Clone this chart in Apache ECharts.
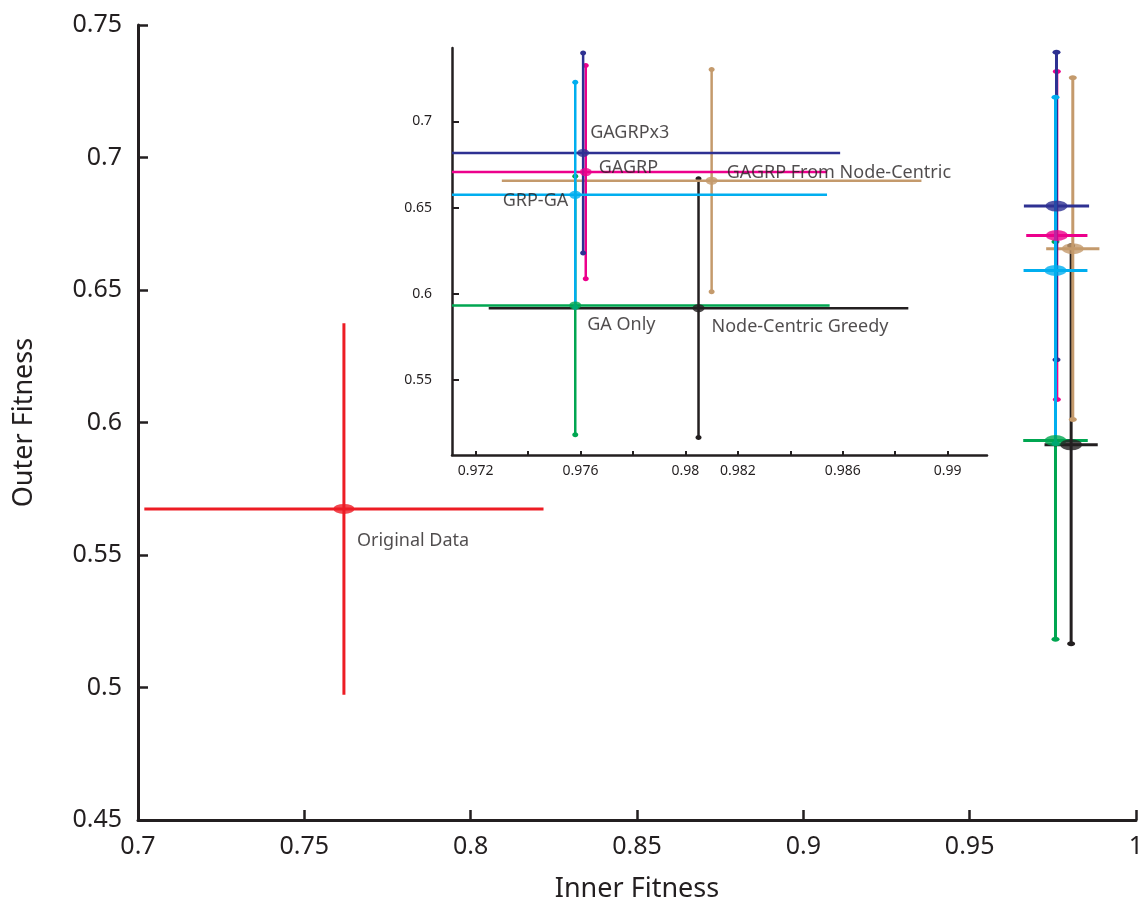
<!DOCTYPE html>
<html>
<head>
<meta charset="utf-8">
<script src="https://cdn.jsdelivr.net/npm/echarts@6/dist/echarts.min.js"></script>
<style>
  html, body { margin: 0; padding: 0; background: #fff; }
  #chart { width: 1138px; height: 904px; }
</style>
</head>
<body>
<div id="chart"></div>
<script>
// 数据: 各方法的 inner / outer fitness 均值与误差 (绘制顺序)
const names = ['Original Data', 'GA Only', 'Node-Centric Greedy', 'GAGRP From Node-Centric', 'GAGRP', 'GAGRPx3', 'GRP-GA'];
const innerMean = [0.7619, 0.9758, 0.9805, 0.9810, 0.9762, 0.9761, 0.9758];
const innerErr = [0.0600, 0.0097, 0.0080, 0.0080, 0.0092, 0.0098, 0.0096];
const outerMean = [0.5674, 0.5932, 0.5916, 0.6656, 0.6706, 0.6817, 0.6574];
const outerErr = [0.0701, 0.0750, 0.0751, 0.0645, 0.0619, 0.0580, 0.0653];

// 坐标轴刻度
const mainXTicks = [0.7, 0.75, 0.8, 0.85, 0.9, 0.95, 1];
const mainYTicks = [0.45, 0.5, 0.55, 0.6, 0.65, 0.7, 0.75];
const insetXTicks = [0.972, 0.974, 0.976, 0.978, 0.98, 0.982, 0.984, 0.986, 0.988, 0.99];
const insetXLabels = [0.972, 0.976, 0.98, 0.982, 0.986, 0.99];
const insetYTicks = [0.55, 0.6, 0.65, 0.7];

const colors = {
  'Original Data': '#ED1C24',
  'GA Only': '#00A651',
  'Node-Centric Greedy': '#231F20',
  'GAGRP From Node-Centric': '#C49A6C',
  'GAGRP': '#EC008C',
  'GAGRPx3': '#2E3192',
  'GRP-GA': '#00AEEF'
};
// 标签相对中心点的偏移
const insetLabelPos = {
  'GAGRPx3': { offset: [7, -20], align: 'left' },
  'GAGRP': { offset: [13, -4], align: 'left' },
  'GAGRP From Node-Centric': { offset: [15, -8], align: 'left' },
  'GRP-GA': { offset: [-7, 6], align: 'right' },
  'GA Only': { offset: [12, 19], align: 'left' },
  'Node-Centric Greedy': { offset: [13, 19], align: 'left' }
};
const textColor = '#231F20';
const font = 'Noto Sans';

// 误差线
function makeErrorBar(lineWidth, capRx, capRy) {
  return function (params, api) {
    const x = api.value(0), y = api.value(1), ex = api.value(2), ey = api.value(3);
    const name = names[api.value(4)];
    const color = colors[name];
    const cs = params.coordSys;
    const clampX = v => Math.max(cs.x, Math.min(cs.x + cs.width, v));
    const clampY = v => Math.max(cs.y, Math.min(cs.y + cs.height, v));
    const l = api.coord([x - ex, y]);
    const r = api.coord([x + ex, y]);
    const t = api.coord([x, y + ey]);
    const b = api.coord([x, y - ey]);
    const style = { stroke: color, lineWidth: lineWidth };
    const children = [
      { type: 'line', shape: { x1: clampX(l[0]), y1: l[1], x2: clampX(r[0]), y2: r[1] }, style: style },
      { type: 'line', shape: { x1: t[0], y1: clampY(t[1]), x2: b[0], y2: clampY(b[1]) }, style: style }
    ];
    if (name !== 'Original Data') {
      children.push({ type: 'ellipse', shape: { cx: t[0], cy: t[1], rx: capRx, ry: capRy }, style: { fill: color } });
      children.push({ type: 'ellipse', shape: { cx: b[0], cy: b[1], rx: capRx, ry: capRy }, style: { fill: color } });
    }
    return { type: 'group', children: children };
  };
}

const allIdx = names.map((n, i) => i);
const insetIdx = allIdx.filter(i => names[i] !== 'Original Data');

const mainBars = allIdx.map(i => [innerMean[i], outerMean[i], innerErr[i], outerErr[i], i]);
const insetBars = insetIdx.map(i => [innerMean[i], outerMean[i], innerErr[i], outerErr[i], i]);

const mainPoints = allIdx.map(i => ({
  name: names[i],
  value: [innerMean[i], outerMean[i]],
  symbolSize: names[i] === 'Original Data' ? [21, 10] : [22, 11],
  itemStyle: { color: colors[names[i]] },
  label: names[i] === 'Original Data' ? {
    show: true, formatter: names[i], position: 'inside', align: 'left',
    offset: [13, 32], color: textColor, fontSize: 18, fontFamily: font
  } : { show: false }
}));

const insetPoints = insetIdx.map(i => ({
  name: names[i],
  value: [innerMean[i], outerMean[i]],
  itemStyle: { color: colors[names[i]] },
  label: {
    show: true, formatter: names[i], position: 'inside',
    align: insetLabelPos[names[i]].align, offset: insetLabelPos[names[i]].offset,
    color: textColor, fontSize: 18, fontFamily: font
  }
}));

const axisLineStyle = { color: textColor, width: 3 };

const option = {
  animation: false,
  backgroundColor: '#fff',
  grid: [
    { left: 138, right: 2, top: 25, bottom: 84, outerBoundsMode: 'none' },
    { left: 452, right: 151, top: 48, bottom: 449, outerBoundsMode: 'none' }
  ],
  xAxis: [
    {
      gridIndex: 0, type: 'value', min: 0.7, max: 1, interval: 0.05,
      name: 'Inner Fitness', nameLocation: 'middle', nameGap: 56,
      nameTextStyle: { fontSize: 27, color: textColor, fontFamily: font },
      axisLine: { lineStyle: axisLineStyle },
      axisTick: { inside: true, length: 10, lineStyle: { color: textColor, width: 2.5 } },
      axisLabel: { fontSize: 25, color: textColor, fontFamily: font, margin: 14,
        customValues: mainXTicks },
      splitLine: { show: false }
    },
    {
      gridIndex: 1, type: 'value', min: 0.9711, max: 0.9915,
      axisLine: { lineStyle: { color: textColor, width: 2.5 } },
      axisTick: { inside: true, length: 4, lineStyle: { color: textColor, width: 2 }, customValues: insetXTicks },
      axisLabel: { fontSize: 14, color: textColor, fontFamily: font, margin: 9, customValues: insetXLabels },
      splitLine: { show: false }
    }
  ],
  yAxis: [
    {
      gridIndex: 0, type: 'value', min: 0.45, max: 0.75, interval: 0.05,
      name: 'Outer Fitness', nameLocation: 'middle', nameGap: 100,
      nameTextStyle: { fontSize: 27, color: textColor, fontFamily: font },
      axisLine: { lineStyle: axisLineStyle },
      axisTick: { inside: true, length: 10, lineStyle: { color: textColor, width: 2.5 } },
      axisLabel: { fontSize: 25, color: textColor, fontFamily: font, margin: 16,
        customValues: mainYTicks },
      splitLine: { show: false }
    },
    {
      gridIndex: 1, type: 'value', min: 0.5064, max: 0.7426,
      axisLine: { lineStyle: { color: textColor, width: 2.5 } },
      axisTick: { inside: true, length: 7, lineStyle: { color: textColor, width: 2 }, customValues: insetYTicks },
      axisLabel: { fontSize: 14, color: textColor, fontFamily: font, margin: 20, customValues: insetYTicks },
      splitLine: { show: false }
    }
  ],
  series: [
    {
      type: 'custom', xAxisIndex: 0, yAxisIndex: 0,
      renderItem: makeErrorBar(3, 4, 2.5), data: mainBars, silent: true
    },
    {
      type: 'scatter', xAxisIndex: 0, yAxisIndex: 0, symbol: 'circle',
      data: mainPoints, z: 5
    },
    {
      type: 'custom', xAxisIndex: 1, yAxisIndex: 1,
      renderItem: makeErrorBar(2.5, 3, 2.5), data: insetBars, silent: true
    },
    {
      type: 'scatter', xAxisIndex: 1, yAxisIndex: 1, symbol: 'circle',
      symbolSize: [12, 8], data: insetPoints, z: 5
    }
  ]
};

const chart = echarts.init(document.getElementById('chart'));
chart.setOption(option);
</script>
</body>
</html>
